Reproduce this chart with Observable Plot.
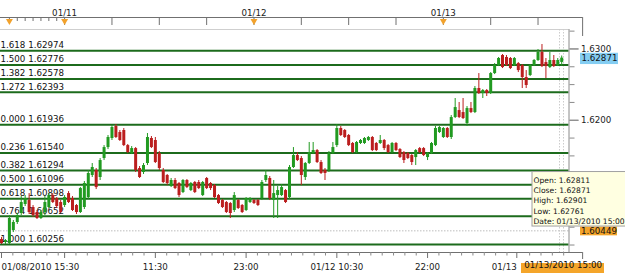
<!DOCTYPE html>
<html><head><meta charset="utf-8">
<script src="https://cdn.jsdelivr.net/npm/d3@7"></script>
<script src="https://cdn.jsdelivr.net/npm/@observablehq/plot@0.6"></script>
<style>
html,body{margin:0;padding:0;background:#fff;}
#chart{width:625px;height:278px;overflow:hidden;}
</style></head><body><div id="chart"></div>
<script>
// ---- Fibonacci levels ----
const fibRatios = ["1.618","1.500","1.382","1.272","0.000","0.236","0.382","0.500","0.618","0.764","1.000"];
const fibLevels = [1.62974,1.62776,1.62578,1.62393,1.61936,1.61540,1.61294,1.61096,1.60898,1.60652,1.60256];

// ---- 30-minute candles, 01/08/2010 15:30 .. 01/13/2010 15:00 (bar index = position) ----
const open = [
1.60327,1.60285,1.60271,1.60453,1.60566,1.60692,1.60818,1.60874,1.60776,1.60706,
1.60622,1.60706,1.60776,1.60944,1.60902,1.60846,1.60804,1.60972,1.60902,1.60804,
1.60706,1.60776,1.60916,1.61225,1.61295,1.61197,1.61463,1.61617,1.61744,1.61912,
1.61828,1.61856,1.61645,1.61533,1.61603,1.61323,1.61267,1.61393,1.61744,1.61716,
1.61533,1.61295,1.61225,1.61070,1.61155,1.61113,1.60986,1.61155,1.61014,1.61127,
1.61127,1.60944,1.61183,1.61113,1.61084,1.60944,1.60874,1.60846,1.60832,1.60734,
1.60874,1.60804,1.60734,1.60846,1.60874,1.60874,1.60902,1.61155,1.61183,1.60874,
1.60944,1.60944,1.61014,1.60916,1.61337,1.61505,1.61463,1.61197,1.61393,1.61533,
1.61575,1.61407,1.61295,1.61295,1.61533,1.61645,1.61884,1.61856,1.61786,1.61674,
1.61547,1.61674,1.61674,1.61716,1.61758,1.61674,1.61674,1.61716,1.61645,1.61547,
1.61674,1.61589,1.61547,1.61533,1.61505,1.61477,1.61603,1.61603,1.61477,1.61533,
1.61645,1.61828,1.61758,1.61884,1.61758,1.62038,1.62136,1.62108,1.61954,1.62164,
1.62108,1.62445,1.62375,1.62417,1.62375,1.62655,1.62767,1.62908,1.62880,1.62866,
1.62767,1.62795,1.62767,1.62599,1.62627,1.62767,1.62838,1.62950,1.62809,1.62739,
1.62838,1.62767,1.62811];
const close = [
1.60271,1.60313,1.60622,1.60566,1.60664,1.60846,1.60902,1.60706,1.60664,1.60622,
1.60706,1.60846,1.60944,1.60846,1.60790,1.60706,1.60916,1.60846,1.60734,1.60706,
1.61042,1.61113,1.61253,1.61337,1.61056,1.61435,1.61617,1.61758,1.61898,1.61758,
1.61716,1.61645,1.61547,1.61603,1.61295,1.61197,1.61365,1.61758,1.61617,1.61407,
1.61323,1.61127,1.61113,1.61155,1.61042,1.60944,1.61155,1.61056,1.61113,1.60986,
1.61042,1.61127,1.61042,1.61042,1.60916,1.60832,1.60776,1.60706,1.60692,1.60944,
1.60762,1.60706,1.60902,1.60902,1.60832,1.60804,1.61127,1.61225,1.60902,1.60972,
1.61014,1.61056,1.60846,1.61337,1.61505,1.61435,1.61225,1.61393,1.61547,1.61575,
1.61407,1.61253,1.61253,1.61533,1.61617,1.61884,1.61786,1.61758,1.61645,1.61547,
1.61688,1.61716,1.61744,1.61758,1.61575,1.61575,1.61716,1.61603,1.61547,1.61674,
1.61575,1.61477,1.61435,1.61463,1.61407,1.61575,1.61547,1.61505,1.61533,1.61674,
1.61884,1.61898,1.61884,1.61758,1.62038,1.62178,1.62038,1.62024,1.62164,1.62108,
1.62445,1.62375,1.62417,1.62375,1.62655,1.62767,1.62866,1.62739,1.62767,1.62725,
1.62866,1.62697,1.62599,1.62487,1.62767,1.62838,1.62950,1.62753,1.62753,1.62838,
1.62753,1.62838,1.62871];
const high = [
1.60355,1.60327,1.60664,1.60594,1.60692,1.60930,1.60944,1.60972,1.60804,1.60734,
1.60734,1.60930,1.60972,1.60972,1.60916,1.60874,1.60944,1.61000,1.60930,1.60818,
1.61056,1.61141,1.61295,1.61393,1.61323,1.61463,1.61645,1.61786,1.61926,1.61940,
1.61856,1.61884,1.61660,1.61631,1.61617,1.61351,1.61393,1.61814,1.61772,1.61758,
1.61561,1.61323,1.61239,1.61183,1.61183,1.61127,1.61169,1.61169,1.61127,1.61141,
1.61155,1.61141,1.61197,1.61127,1.61099,1.60958,1.60888,1.60860,1.60846,1.60986,
1.60888,1.60818,1.60916,1.60916,1.60888,1.60888,1.61155,1.61295,1.61211,1.61155,
1.61070,1.61099,1.61028,1.61365,1.61617,1.61547,1.61491,1.61407,1.61688,1.61688,
1.61589,1.61435,1.61323,1.61561,1.61688,1.61940,1.61912,1.61870,1.61800,1.61688,
1.61702,1.61730,1.61758,1.61772,1.61772,1.61688,1.61786,1.61730,1.61660,1.61688,
1.61688,1.61603,1.61561,1.61547,1.61519,1.61589,1.61617,1.61617,1.61547,1.61688,
1.61912,1.61912,1.61898,1.61898,1.62066,1.62305,1.62249,1.62305,1.62192,1.62249,
1.62473,1.62655,1.62431,1.62431,1.62669,1.62795,1.62880,1.62922,1.62908,1.62880,
1.62880,1.62809,1.62781,1.62697,1.62781,1.62852,1.62992,1.63062,1.62866,1.62950,
1.62908,1.62866,1.62901];
const low = [
1.60257,1.60257,1.60257,1.60425,1.60538,1.60664,1.60790,1.60678,1.60636,1.60608,
1.60608,1.60664,1.60762,1.60832,1.60762,1.60692,1.60776,1.60832,1.60720,1.60678,
1.60692,1.60748,1.60888,1.61197,1.61028,1.61155,1.61435,1.61589,1.61716,1.61744,
1.61702,1.61631,1.61533,1.61519,1.61267,1.61183,1.61239,1.61365,1.61603,1.61393,
1.61295,1.61113,1.61084,1.61056,1.61028,1.60916,1.60972,1.61042,1.61000,1.60972,
1.61028,1.60930,1.61028,1.61014,1.60902,1.60818,1.60762,1.60692,1.60622,1.60706,
1.60748,1.60692,1.60720,1.60832,1.60818,1.60790,1.60874,1.61127,1.60874,1.60622,
1.60622,1.60930,1.60832,1.60888,1.61323,1.61421,1.61084,1.61155,1.61379,1.61519,
1.61393,1.61239,1.61155,1.61267,1.61519,1.61617,1.61772,1.61744,1.61631,1.61533,
1.61533,1.61660,1.61660,1.61702,1.61561,1.61561,1.61660,1.61575,1.61533,1.61533,
1.61561,1.61463,1.61393,1.61449,1.61365,1.61365,1.61533,1.61491,1.61435,1.61519,
1.61631,1.61814,1.61744,1.61744,1.61730,1.62024,1.62024,1.62010,1.61912,1.62094,
1.62094,1.62361,1.62305,1.62333,1.62361,1.62641,1.62753,1.62725,1.62753,1.62711,
1.62753,1.62669,1.62445,1.62445,1.62613,1.62753,1.62824,1.62739,1.62585,1.62725,
1.62739,1.62753,1.62761];

// ---- axis labels ----
const bottomTickBars = [0, 16, 39, 62, 85, 108, 131];
const bottomTickLabels = ["01/08/2010 15:30", "", "11:30", "23:00", "01/12 10:30", "22:00", "01/13"];
const topDayBars = [16, 64, 112];
const topDayLabels = ["01/11", "01/12", "01/13"];
const topHourBars = [2, 4, 6, 8, 10, 12, 14];
const topSixHourBars = [16, 28, 40, 52, 64, 76, 88, 100, 112, 124, 136];
const markerBars = [2, 16, 64, 112];
const priceLabeled = [1.6200, 1.6300];
const priceMajor = [1.6100, 1.6200, 1.6300];
const priceMinor = [1.6025, 1.6050, 1.6075, 1.6125, 1.6150, 1.6175, 1.6225, 1.6250, 1.6275, 1.6325];
const crossPrice = 1.60449;
const hoverDate = "01/13/2010 15:00";

// ---- build ----
const n = open.length;
const bars = d3.range(n).map(i => ({i, o: open[i], c: close[i], h: high[i], l: low[i]}));
const last = bars[n - 1];
const GREEN = "#219a21", RED = "#bb1e1e", FIB = "#1c6b1c";
const col = d => d.c >= d.o ? GREEN : RED;
const FONT = "'DejaVu Sans', Verdana, sans-serif";
const FS = 8.7;

const xDom = [-0.2535, 143.85];
const yDom = [1.601452, 1.632728];
const rulerEnd = 147.3;

const bottomMinor = [];
bottomTickBars.forEach((a, k) => {
  const b = k + 1 < bottomTickBars.length ? bottomTickBars[k + 1] : n + 1;
  for (let t = a + 2.875; t < b - 0.5; t += 2.875) bottomMinor.push(t);
});
const labelOf = new Map(bottomTickBars.map((b, k) => [b, bottomTickLabels[k]]));

const chart = Plot.plot({
  width: 625, height: 278,
  marginLeft: 0, marginRight: 56.5, marginTop: 29, marginBottom: 26,
  x: {type: "linear", domain: xDom, axis: null, label: null},
  y: {type: "linear", domain: yDom, axis: null, label: null},
  style: {fontFamily: FONT, fontSize: FS + "px", background: "#fff", overflow: "visible", color: "#222"},
  marks: [
    // plot top border
    Plot.ruleY([yDom[1]], {stroke: "#cfcfcf"}),
    // crosshair
    Plot.ruleY([crossPrice], {stroke: "#bdbdbd", strokeDasharray: "1.5,1.5"}),
    Plot.ruleX([last], {x: "i", dx: -2.2, stroke: "#cccccc", strokeDasharray: "1.5,1.5"}),
    Plot.ruleX([last], {x: "i", dx: 1.8, stroke: "#cccccc", strokeDasharray: "1.5,1.5"}),
    // fib levels
    Plot.ruleY(fibLevels, {stroke: FIB, strokeWidth: 2}),
    Plot.text(fibLevels, {y: d => d, text: (d, i) => `${fibRatios[i]} ${d.toFixed(5)}`,
      frameAnchor: "left", textAnchor: "start", dy: -5.4, fontSize: FS, fill: "#111"}),
    // candles
    Plot.ruleX(bars, {x: "i", y1: "l", y2: "h", stroke: col, strokeWidth: 1}),
    Plot.ruleX(bars, {x: "i", y1: "o", y2: "c", stroke: col, strokeWidth: 3}),
    // right axis
    Plot.ruleX([xDom[1]], {stroke: "#8a8a8a"}),
    Plot.axisY({anchor: "right", label: null, ticks: priceMinor, tickSize: 5, tickFormat: () => "", stroke: "#8a8a8a"}),
    Plot.axisY({anchor: "right", label: null, ticks: priceMajor, tickSize: 9, tickFormat: () => "", stroke: "#8a8a8a"}),
    Plot.axisY({anchor: "right", label: null, ticks: priceLabeled, tickSize: 9, tickPadding: 3, tickFormat: d => d.toFixed(4),
      fontSize: FS, stroke: "#8a8a8a", fill: "#222"}),
    // top ruler
    Plot.ruleY([yDom[1]], {x1: xDom[0], x2: rulerEnd, dy: -12, stroke: "#707070"}),
    Plot.ruleX([rulerEnd], {insetTop: -12, insetBottom: 216, stroke: "#707070"}),
    Plot.axisX({anchor: "top", label: null, ticks: topHourBars, tickSize: 3, dy: -9, tickFormat: () => "", stroke: "#707070"}),
    Plot.axisX({anchor: "top", label: null, ticks: topSixHourBars, tickSize: 7, dy: -5, tickFormat: () => "", stroke: "#707070"}),
    Plot.dot(markerBars, {x: d => d, frameAnchor: "top", dy: -8.5, symbol: "triangle", r: 2.6, rotate: 180,
      fill: "#f2a22c", stroke: "none"}),
    Plot.text(topDayBars, {x: d => d, text: (d, i) => topDayLabels[i], frameAnchor: "top", dy: -19.8,
      fontSize: FS, fill: "#222"}),
    // bottom ruler
    Plot.ruleY([yDom[0]], {x1: xDom[0], x2: rulerEnd, stroke: "#707070"}),
    Plot.ruleX([rulerEnd], {insetTop: 223, insetBottom: -7, stroke: "#707070"}),
    Plot.axisX({anchor: "bottom", label: null, ticks: bottomMinor, tickSize: 3.5, tickFormat: () => "", stroke: "#8a8a8a"}),
    Plot.axisX({anchor: "bottom", label: null, ticks: bottomTickBars.slice(1, -1), tickSize: 6, tickPadding: 5.8,
      tickFormat: d => labelOf.get(d), fontSize: FS, stroke: "#707070", fill: "#222"}),
    Plot.axisX({anchor: "bottom", label: null, ticks: bottomTickBars.slice(-1), tickSize: 6, tickPadding: 5.8,
      tickFormat: d => labelOf.get(d), textAnchor: "end", dx: -1.5, fontSize: FS, stroke: "#707070", fill: "#222"}),
    Plot.axisX({anchor: "bottom", label: null, ticks: bottomTickBars.slice(0, 1), tickSize: 6, tickPadding: 5.8,
      tickFormat: d => labelOf.get(d), textAnchor: "start", fontSize: FS, stroke: "#707070", fill: "#222"}),
    // last price label
    Plot.rect([last], {x1: () => xDom[1], x2: () => xDom[1], y1: "c", y2: "c",
      insetLeft: 11.5, insetRight: -49.5, insetTop: -4.9, insetBottom: -6.4, fill: "#84cdf2"}),
    Plot.text([last], {x: () => xDom[1], y: "c", text: d => d.c.toFixed(5), dx: 30.5, fontSize: FS, fill: "#111"}),
    // crosshair price label
    Plot.rect([crossPrice], {x1: () => xDom[1], x2: () => xDom[1], y1: d => d, y2: d => d,
      insetLeft: 11.5, insetRight: -48.5, insetTop: -3.8, insetBottom: -5, fill: "#f4a52a"}),
    Plot.text([crossPrice], {x: () => xDom[1], y: d => d, text: d => d.toFixed(5), dx: 30, dy: 0.5, fontSize: FS, fill: "#111"}),
    // tooltip
    Plot.rect([last], {x1: "i", x2: "i", y1: () => crossPrice, y2: () => crossPrice,
      insetLeft: -29.2, insetRight: -70, insetTop: -58.8, insetBottom: 4.3, fill: "#ffffe1", stroke: "#a0a0a0"}),
    Plot.text([last], {x: "i", y: () => crossPrice,
      text: d => `Open: ${d.o.toFixed(5)}\nClose: ${d.c.toFixed(5)}\nHigh: ${d.h.toFixed(5)}\nLow: ${d.l.toFixed(5)}\nDate: ${hoverDate}`,
      lineAnchor: "top", textAnchor: "start", dx: -28.2, dy: -54.8, fontSize: 7.6, lineHeight: 1.33, fill: "#111"}),
    // hovered date label
    Plot.rect([last], {x1: "i", x2: "i", insetLeft: -40.2, insetRight: -42.8, insetTop: 234, insetBottom: -21, fill: "#f4a52a"}),
    Plot.text([last], {x: "i", text: () => hoverDate, frameAnchor: "bottom", dy: 15.9, dx: 1.5, fontSize: FS, fill: "#111"})
  ]
});
document.getElementById("chart").appendChild(chart);
</script></body></html>
